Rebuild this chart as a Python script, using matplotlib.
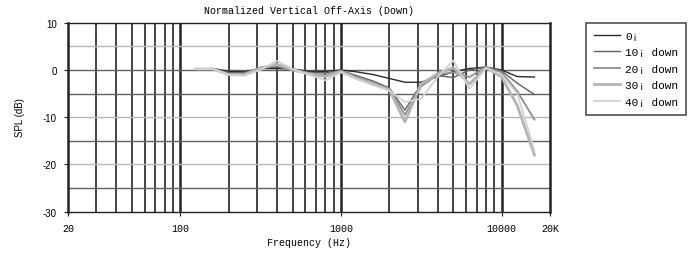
import matplotlib
matplotlib.use("Agg")
import matplotlib.pyplot as plt
from matplotlib.ticker import FixedLocator, NullLocator, NullFormatter

freqs = [125, 160, 200, 250, 315, 400, 500, 630, 800, 1000, 1250, 1600,
         2000, 2500, 3150, 4000, 5000, 6300, 8000, 10000, 12500, 16000]
deg0 = [0.2, 0.3, -0.3, -0.4, 0.3, 0.3, 0.2, -0.3, -0.3, 0.0, -0.4, -1.0,
        -1.8, -2.6, -2.6, -1.4, -0.4, 0.3, 0.6, 0.0, -1.4, -1.5]
deg10 = [0.2, 0.2, -0.6, -0.6, 0.4, 0.6, 0.1, -0.5, -0.6, -0.1, -1.2, -2.4,
         -3.8, -8.5, -3.0, -1.2, -1.6, 0.0, 0.6, -0.2, -2.8, -5.2]
deg20 = [0.2, 0.2, -0.9, -0.8, 0.5, 0.9, 0.0, -0.7, -1.0, -0.2, -1.5, -2.8,
         -4.0, -9.5, -3.5, -1.0, -0.5, -1.5, 0.6, -0.5, -4.5, -10.5]
deg30 = [0.2, 0.2, -1.0, -1.0, 0.4, 1.2, 0.0, -0.8, -1.4, -0.3, -1.8, -3.0,
         -4.2, -11.0, -3.0, -0.8, 0.5, -3.0, 0.5, -1.5, -7.5, -18.0]
deg40 = [0.2, 0.2, -1.0, -1.2, 0.0, 1.9, 0.2, -1.0, -2.2, -0.5, -1.9, -3.3,
         -4.4, -6.8, -6.1, -1.5, 2.0, -4.0, 0.4, -1.0, -5.0, -17.0]

series_labels = ["0¡", "10¡ down", "20¡ down", "30¡ down", "40¡ down"]
series_colors = ["#2a2a2a", "#606060", "#8f8f8f", "#b4b4b4", "#d2d2d2"]
series_widths = [1.0, 1.0, 1.3, 2.0, 1.3]

xtick_vals = [20, 100, 1000, 10000, 20000]
xtick_labels = ["20", "100", "1000", "10000", "20K"]
ytick_vals = [10, 0, -10, -20, -30]

mono = "Liberation Mono"
sans = "Liberation Sans"

fig = plt.figure(figsize=(6.91, 2.55), dpi=100)
ax = fig.add_axes([68 / 691, 1 - 212.7 / 255, (550 - 68) / 691, (212.7 - 23.7) / 255])
ax.set_xscale("log")
ax.set_xlim(20, 20000)
ax.set_ylim(-30, 10)

# vertical grid
for dec in [10, 100, 1000, 10000]:
    for m in range(1, 10):
        v = dec * m
        if v <= 20 or v >= 20000:
            continue
        lw = 1.8 if m == 1 else 1.2
        ax.axvline(v, color="#222222", lw=lw, zorder=1)
# horizontal grid
for yv in range(-25, 10, 5):
    col = "#b8b8b8" if yv in (5, -10, -20) else "#606060"
    ax.axhline(yv, color=col, lw=1.0, zorder=1)

all_series = [deg0, deg10, deg20, deg30, deg40]
for vals, lab, c, w in zip(all_series, series_labels, series_colors, series_widths):
    ax.plot(freqs, vals, color=c, lw=w, label=lab, zorder=3)

for s in ["left", "right"]:
    ax.spines[s].set_linewidth(1.8)
    ax.spines[s].set_color("#222222")
for s in ["top", "bottom"]:
    ax.spines[s].set_linewidth(1.0)
    ax.spines[s].set_color("#222222")

ax.xaxis.set_major_locator(FixedLocator(xtick_vals))
ax.set_xticklabels(xtick_labels, fontfamily=mono, fontsize=7.2)
ax.xaxis.set_minor_locator(NullLocator())
ax.xaxis.set_minor_formatter(NullFormatter())
ax.set_yticks(ytick_vals)
ax.set_yticklabels([str(v) for v in ytick_vals], fontfamily=sans, fontsize=7)
ax.tick_params(axis="both", length=3, width=0.8, color="#222222", pad=5)

ax.set_xlabel("Frequency (Hz)", fontfamily=mono, fontsize=7.2, labelpad=3)
ax.set_title("Normalized Vertical Off-Axis (Down)", fontfamily=mono, fontsize=7.2, pad=7)
fig.text(20 / 691, 1 - 118 / 255, "SPL (dB)", rotation=90, ha="center", va="center",
         fontfamily=sans, fontsize=7)

handles, labels = ax.get_legend_handles_labels()
leg = fig.legend(handles, labels, loc="upper left",
                 bbox_to_anchor=(586 / 691, 1 - 23.5 / 255),
                 prop={"family": mono, "size": 8}, handlelength=2.3,
                 labelspacing=0.58, borderaxespad=0, fancybox=False,
                 frameon=True, borderpad=0.75, handletextpad=0.45)
leg.get_frame().set_edgecolor("#222222")
leg.get_frame().set_linewidth(1.2)

fig.savefig("out.png", dpi=100)
